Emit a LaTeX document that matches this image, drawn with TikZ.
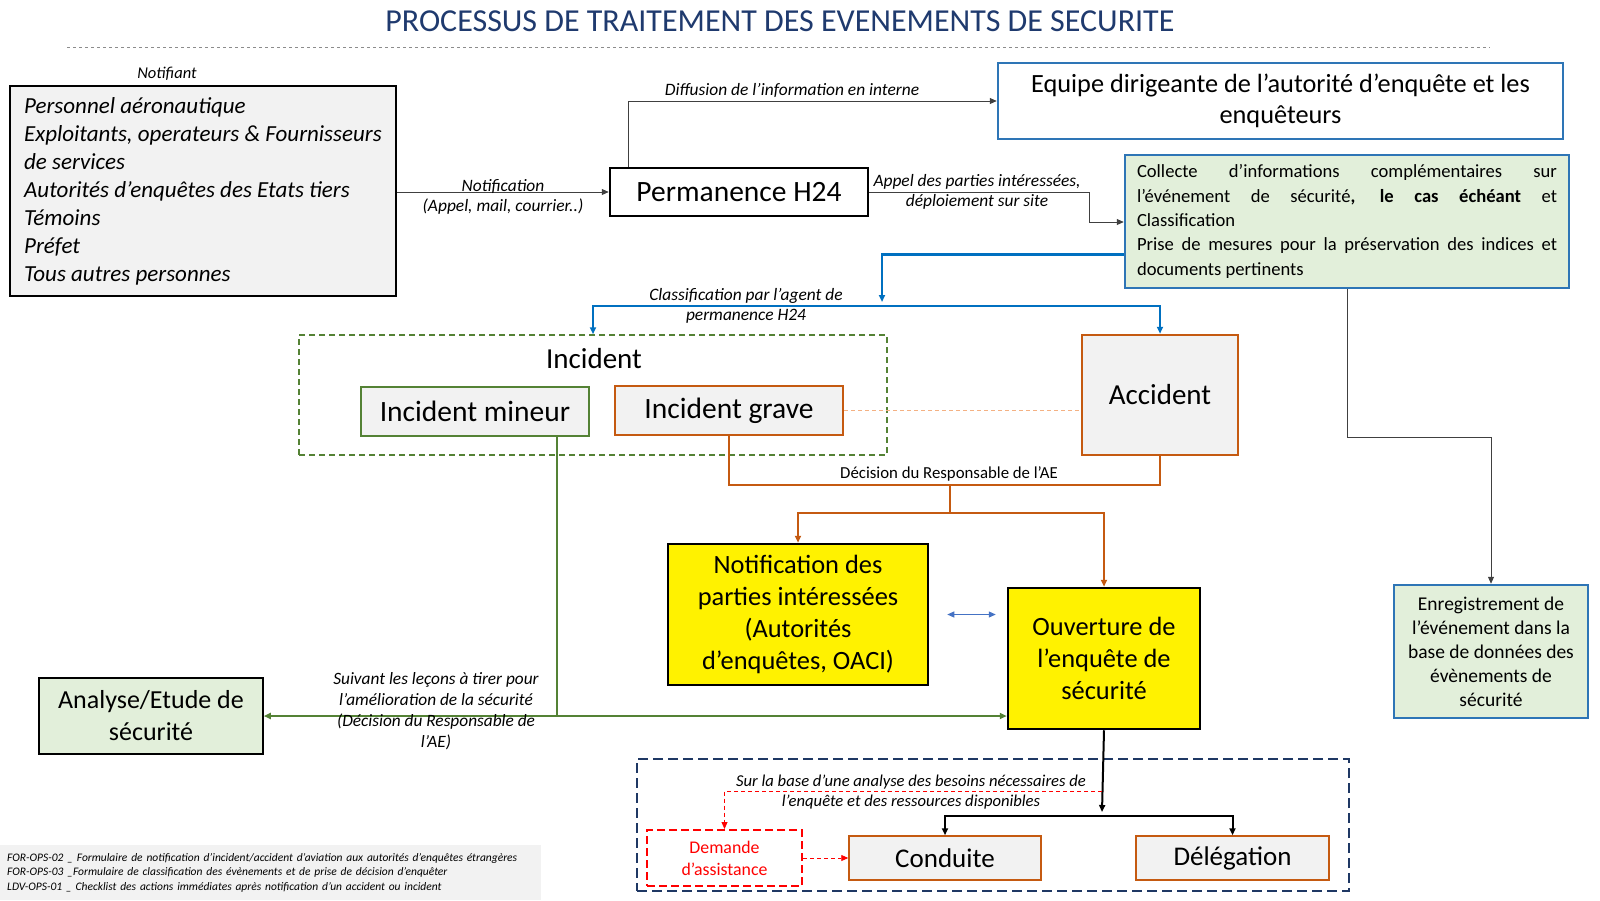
\documentclass[tikz,border=0pt]{standalone}
\usepackage{fontspec}
\setmainfont{Carlito}
\usetikzlibrary{arrows.meta,positioning,calc}

\definecolor{titrebleu}{HTML}{1F3A6E}
\definecolor{bordbleu}{HTML}{2E75B6}
\definecolor{bleu}{HTML}{0070C0}
\definecolor{bleuclair}{HTML}{4472C4}
\definecolor{vert}{HTML}{548235}
\definecolor{fondvert}{HTML}{E2EFDA}
\definecolor{fondgris}{HTML}{F2F2F2}
\definecolor{brun}{HTML}{C55A11}
\definecolor{brunclair}{HTML}{F4B183}
\definecolor{marine}{HTML}{1F3864}
\definecolor{rouge}{HTML}{FF0000}

\newcommand{\fs}[2]{\fontsize{#1}{#2}\selectfont}

\begin{document}
\begin{tikzpicture}[x=1pt,y=-1pt,
    >={Triangle[length=7pt,width=6pt]},
    boite/.style={draw, line width=1.5pt, inner sep=0pt, align=center},
    legende/.style={font=\fs{17.4}{20}\itshape, align=center, inner sep=0pt},
    fleche/.style={line width=0.8pt, black!75},
    tirets/.style={dash pattern=on 4pt off 3pt}]

    \useasboundingbox (0,0) rectangle (1600,900);

    % titre
    \node[text=titrebleu, inner sep=0pt, font=\fs{32}{36}] (titre) at (780,21)
        {PROCESSUS DE TRAITEMENT DES EVENEMENTS DE SECURITE};
    \draw[black!45, dashed, line width=0.7pt] (67,47) -- (1490,47);

    % notifiants
    \node[legende, font=\fs{16.5}{20}\itshape] (notifiantlbl) at (167,74) {Notifiant};
    \node[boite, fill=fondgris, minimum width=386, minimum height=210, align=left,
        font=\fs{23}{28}\itshape] (notifiant) at (203,191)
        {Personnel aéronautique\\ Exploitants, operateurs \& Fournisseurs\\ de services\\
         Autorités d’enquêtes des Etats tiers\\ Témoins\\ Préfet\\ Tous autres personnes};

    % permanence et information
    \node[boite, line width=2.5pt, fill=white, minimum width=258, minimum height=48,
        font=\fs{29.5}{32}] (perm) at (739,192) {Permanence H24};
    \node[boite, draw=bordbleu, line width=2.5pt, minimum width=565, minimum height=76,
        font=\fs{26.3}{31}] (equipe) at (1280.5,101)
        {Equipe dirigeante de l’autorité d’enquête et les\\ enquêteurs};
    \node[boite, draw=bordbleu, fill=fondvert, line width=2.5pt, minimum width=444,
        minimum height=133, text width=420, align=justify, inner xsep=12pt,
        font=\fs{18.6}{24.3}] (collecte) at (1347,221.5)
        {Collecte d’informations complémentaires sur\linebreak l’événement de sécurité\textbf{, le cas échéant} et\linebreak Classification\\
         Prise de mesures pour la préservation des indices et\linebreak documents pertinents};

    \draw[fleche,->] (perm.west -| notifiant.east) -- (perm.west);
    \node[legende] (notiflbl) at (503,197) {Notification\\(Appel, mail, courrier..)};

    \draw[fleche,->] ([xshift=20pt]perm.north west) |- (equipe.west);
    \node[legende] (diffusionlbl) at (792,90) {Diffusion de l’information en interne};

    \coordinate (c1) at (1089,222);
    \draw[fleche,->] (perm.east) -| (c1) -- (c1 -| collecte.west);
    \node[legende] (appellbl) at (977,192) {Appel des parties intéressées,\\déploiement sur site};

    % classification
    \node[boite, draw=vert, dash pattern=on 6pt off 4pt, minimum width=588, minimum height=120] (incident) at (593,395) {};
    \node[inner sep=0pt, font=\fs{29}{32}] (incidentlbl) at (594,359) {Incident};
    \node[boite, draw=vert, fill=fondgris, line width=2.5pt, minimum width=228, minimum height=49,
        font=\fs{29.5}{32}] (mineur) at (475,411.5) {Incident mineur};
    \node[boite, draw=brun, fill=fondgris, line width=2.5pt, minimum width=228, minimum height=49,
        font=\fs{29.5}{32}] (grave) at (729,410.5) {Incident grave};
    \node[boite, draw=brun, fill=fondgris, line width=2.5pt, minimum width=156, minimum height=120,
        font=\fs{29}{32}] (accident) at (1160,395) {Accident};

    \coordinate (cl) at (882,306);
    \draw[bleu, line width=2.5pt, ->] ([yshift=-33pt]collecte.west) -| ([yshift=4pt]cl);
    \draw[bleu, line width=2.5pt, <->] (incident.north) |- (cl) -| (accident.north);
    \node[legende] (classiflbl) at (746,306) {Classification par l’agent de\\permanence H24};

    \draw[brunclair, tirets, line width=0.8pt] (grave.east) -- (grave.east -| accident.west);

    % decision du responsable
    \coordinate (dec) at (950,485);
    \coordinate (dec2) at (950,513);
    \draw[brun, line width=2pt] (grave.south) |- (dec) -| (accident.south);
    \draw[brun, line width=2pt] (dec) -- (dec2);
    \node[inner sep=0pt, fill=white, inner xsep=2pt, font=\fs{16.8}{20}] (declbl) at (949,474)
        {Décision du Responsable de l’AE};

    \node[boite, fill=yellow, line width=2.5pt, minimum width=260, minimum height=141,
        font=\fs{26.4}{32}] (notifpi) at (798,614.5)
        {Notification des\\ parties intéressées\\ (Autorités\\ d’enquêtes, OACI)};
    \node[boite, fill=yellow, line width=2.5pt, minimum width=192, minimum height=141,
        font=\fs{26.4}{32}] (ouverture) at (1104,658.5)
        {Ouverture de\\ l’enquête de\\ sécurité};
    \draw[brun, line width=2pt, <->] (notifpi.north) |- (dec2) -| (ouverture.north);
    \draw[bleuclair, line width=1pt, <->] ([xshift=18pt]notifpi.east) -- ([xshift=-11pt]notifpi.east -| ouverture.west);

    % enregistrement
    \node[boite, draw=bordbleu, fill=fondvert, line width=2.5pt, minimum width=194, minimum height=133,
        font=\fs{19.5}{24}] (enreg) at (1491,651.5)
        {Enregistrement de\\ l’événement dans la\\ base de données des\\ évènements de\\ sécurité};
    \coordinate (ce) at (1491,437);
    \draw[fleche,->] (collecte.south) |- (ce) -- (enreg.north);

    % analyse
    \node[boite, fill=fondvert, minimum width=224, minimum height=76, font=\fs{26}{32}] (analyse)
        at (151,716) {Analyse/Etude de\\ sécurité};
    \coordinate (cv) at (557,716);
    \draw[vert, line width=2pt] (mineur.south -| cv) -- (cv);
    \draw[vert, line width=2pt, ->] (cv) -- (analyse.east);
    \draw[vert, line width=2pt, ->] (cv) -- (cv -| ouverture.west);
    \node[legende, font=\fs{17.3}{21}\itshape] (leconslbl) at (436,711)
        {Suivant les leçons à tirer pour\\ l’amélioration de la sécurité\\ (Décision du Responsable de\\ l’AE)};

    % conduite de l'enquete
    \node[boite, draw=marine, dash pattern=on 10pt off 5pt, minimum width=712, minimum height=132] (cadre) at (993,825) {};
    \node[boite, draw=brun, fill=fondgris, minimum width=192, minimum height=44, font=\fs{27}{30}] (conduite)
        at (945,858) {Conduite};
    \node[boite, draw=brun, fill=fondgris, minimum width=193, minimum height=44, font=\fs{27}{30}] (delegation)
        at (1232.5,858) {Délégation};
    \node[boite, draw=rouge, line width=2pt, dash pattern=on 8pt off 4pt, text=rouge, minimum width=155, minimum height=56,
        font=\fs{17.8}{22}] (demande) at (724.5,858) {Demande\\ d’assistance};

    \coordinate (cb) at (1102,816);
    \coordinate (cr) at (1102,791);
    \draw[line width=2pt, ->] (ouverture.south) -- ([yshift=4pt]cb);
    \draw[line width=2pt, <->] (conduite.north) |- (cb) -| (delegation.north);
    \draw[rouge, tirets, line width=0.8pt, ->] (cr) -| (demande.north);
    \draw[rouge, tirets, line width=0.8pt, ->] (demande.east) -- (conduite.west |- demande.east);
    \node[legende, font=\fs{16.6}{20}\itshape] (besoinslbl) at (911,792)
        {Sur la base d’une analyse des besoins nécessaires de\\ l’enquête et des ressources disponibles};

    % references
    \node[anchor=north west, fill=fondgris, minimum width=541, minimum height=55, inner xsep=7pt,
        align=left, text width=527, font=\fs{11.5}{14.5}\itshape] (refs) at (0,845)
        {FOR-OPS-02 \_ Formulaire de notification d’incident/accident d’aviation aux autorités d’enquêtes étrangères\\
         FOR-OPS-03 \_Formulaire de classification des évènements et de prise de décision d’enquêter\\
         LDV-OPS-01 \_ Checklist des actions immédiates après notification d’un accident ou incident};
\end{tikzpicture}
\end{document}
